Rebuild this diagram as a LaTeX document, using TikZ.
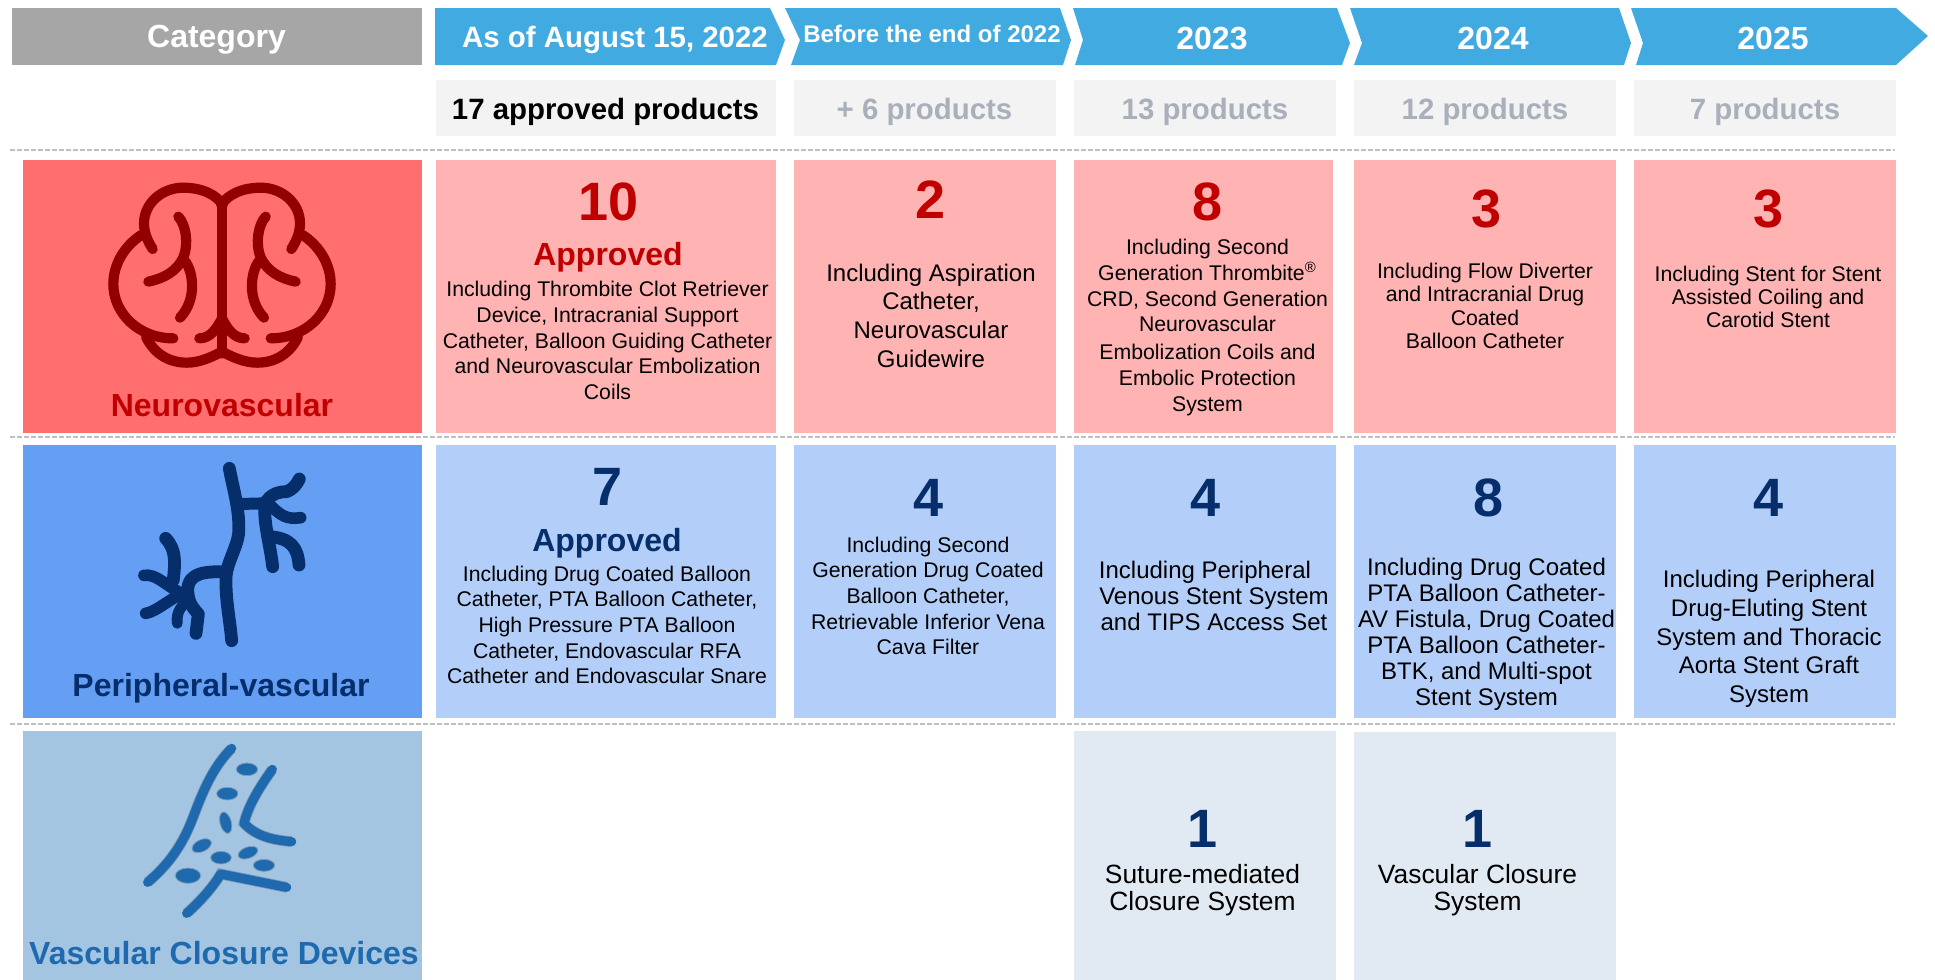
\documentclass[tikz,border=0pt]{standalone}
\usepackage{fontspec}
\setmainfont{Liberation Sans}
\definecolor{hdr}{HTML}{41ABE1}
\definecolor{catgray}{HTML}{A6A6A6}
\definecolor{subbg}{HTML}{F3F3F3}
\definecolor{subfg}{HTML}{A9B0BC}
\definecolor{dashc}{HTML}{BFBFBF}
\definecolor{nleft}{HTML}{FF6F6F}
\definecolor{ncard}{HTML}{FFB3B3}
\definecolor{ntext}{HTML}{C00000}
\definecolor{nicon}{HTML}{930000}
\definecolor{pleft}{HTML}{659FF4}
\definecolor{pcard}{HTML}{B3CFF9}
\definecolor{ptext}{HTML}{052E6B}
\definecolor{vleft}{HTML}{A4C5E2}
\definecolor{vcard}{HTML}{E1EAF3}
\definecolor{vtext}{HTML}{1F6AAE}
\definecolor{vhalo}{HTML}{7F9CB8}
\newcommand{\sz}[2]{\fontsize{#1}{#2}\selectfont}
\tikzset{
  x=0.5pt,y=-0.5pt,
  hdrtext/.style={text=white,font=\sz{14.7}{16}\bfseries,inner sep=0pt},
  subtext/.style={text=subfg,font=\sz{14.7}{16}\bfseries,inner sep=0pt},
  bigneu/.style={text=ntext,font=\sz{27}{30}\bfseries,inner sep=0pt},
  bigper/.style={text=ptext,font=\sz{27}{30}\bfseries,inner sep=0pt},
  bigvcd/.style={text=ptext,font=\sz{27}{30}\bfseries,inner sep=0pt},
  appneu/.style={text=ntext,font=\sz{16}{18}\bfseries,inner sep=0pt},
  appper/.style={text=ptext,font=\sz{16}{18}\bfseries,inner sep=0pt},
  catlabel/.style={font=\sz{16}{18}\bfseries,inner sep=0pt},
  bodysm/.style={text=black,align=center,inner sep=0pt,font=\sz{10.62}{12.8}\selectfont},
  bodylg/.style={text=black,align=center,inner sep=0pt,font=\sz{12}{14.35}\selectfont},
  bodyxl/.style={text=black,align=center,inner sep=0pt,font=\sz{13.2}{13.6}\selectfont},
  divider/.style={draw=dashc,line width=1pt,dash pattern=on 2.4pt off 1.1pt},
  brainline/.style={draw=nicon,line width=5.1pt,line cap=round,line join=round},
  vesselline/.style={draw=ptext,line width=6.4pt,line cap=round,line join=round},
  wall/.style={draw=vtext,line width=4.6pt,line cap=round,line join=round,preaction={draw=vhalo,line width=5.4pt}},
  clot/.style={fill=vtext,draw=vhalo,line width=0.4pt},
}
\begin{document}
\begin{tikzpicture}
\useasboundingbox (0,0) rectangle (1935,980);
% header band
\fill[catgray] (12,8) rectangle (422,65);
\fill[hdr] (435,8) -- (770,8) -- (785,40) -- (776,65) -- (435,65) -- cycle;
\fill[hdr] (785,8) -- (1060,8) -- (1071,40) -- (1063,65) -- (791,65) -- (800,40) -- cycle;
\fill[hdr] (1073,8) -- (1337,8) -- (1350,43) -- (1342,65) -- (1075,65) -- (1083,40) -- cycle;
\fill[hdr] (1350,8) -- (1619,8) -- (1631,43) -- (1624,65) -- (1354,65) -- (1362,43) -- cycle;
\fill[hdr] (1631,8) -- (1896,8) -- (1928,36) -- (1896,65) -- (1636,65) -- (1643,43) -- cycle;
\node[hdrtext,font=\sz{16}{18}\bfseries] (hcat) at (216.5,39.5) {Category};
\node[hdrtext] (h22a) at (615,39.5) {As of August 15, 2022};
\node[hdrtext,font=\sz{12}{14}\bfseries] (h22b) at (932,33.5) {Before the end of 2022};
\node[hdrtext,font=\sz{16}{18}\bfseries] (h23) at (1212,38.5) {2023};
\node[hdrtext,font=\sz{16}{18}\bfseries] (h24) at (1493,38.5) {2024};
\node[hdrtext,font=\sz{16}{18}\bfseries] (h25) at (1773,38.5) {2025};
% sub header
\fill[subbg] (436,80) rectangle (776,136);
\fill[subbg] (794,80) rectangle (1056,136);
\fill[subbg] (1074,80) rectangle (1336,136);
\fill[subbg] (1354,80) rectangle (1616,136);
\fill[subbg] (1634,80) rectangle (1896,136);
\node[subtext,text=black] (s0) at (605.5,112) {17 approved products};
\node[subtext] (s1) at (924.5,112) {+ 6 products};
\node[subtext] (s2) at (1205,112) {13 products};
\node[subtext] (s3) at (1485,112) {12 products};
\node[subtext] (s4) at (1765,112) {7 products};
% dividers
\draw[divider] (10,150) -- (1895,150);
\draw[divider] (10,437) -- (1895,437);
\draw[divider] (10,724) -- (1895,724);
% left cells
\fill[nleft] (23,160) rectangle (422,433);
\fill[pleft] (23,445) rectangle (422,718);
\fill[vleft] (23,731) rectangle (422,980);
\node[catlabel,text=ntext] (lneu) at (222,405) {Neurovascular};
\node[catlabel,text=ptext] (lper) at (221,688) {Peripheral-vascular};
\node[catlabel,text=vtext] (lvcd) at (224,953) {Vascular Closure Devices};
% neuro row
\fill[ncard] (436,160) rectangle (776,433);
\fill[ncard] (794,160) rectangle (1056,433);
\fill[ncard] (1074,160) rectangle (1333,433);
\fill[ncard] (1354,160) rectangle (1616,433);
\fill[ncard] (1634,160) rectangle (1896,433);
\node[bigneu] (n1n) at (609,202) {10};
\node[appneu] (n1a) at (608,257) {Approved};
\node[bodysm] (n1t) at (607.5,340.5) {Including Thrombite Clot Retriever\\Device, Intracranial Support\\Catheter, Balloon Guiding Catheter\\and Neurovascular Embolization\\Coils};
\node[bigneu] (n2n) at (931,200) {2};
\node[bodylg] (n2t) at (931,315.5) {Including Aspiration\\Catheter,\\Neurovascular\\Guidewire};
\node[bigneu] (n3n) at (1208,202) {8};
\node[bodysm] (n3t) at (1207.5,327.5) {Including Second\\Generation Thrombite\textsuperscript{®}\\CRD, Second Generation\\Neurovascular\\[1.3pt]Embolization Coils and\\Embolic Protection\\System};
\node[bigneu] (n4n) at (1487,209) {3};
\node[bodysm,font=\sz{10.62}{11.6}\selectfont] (n4t) at (1485,306) {Including Flow Diverter\\and Intracranial Drug\\Coated\\Balloon Catheter};
\node[bigneu] (n5n) at (1769,209) {3};
\node[bodysm,font=\sz{10.62}{11.6}\selectfont] (n5t) at (1768,297) {Including Stent for Stent\\Assisted Coiling and\\Carotid Stent};
% peripheral row
\fill[pcard] (436,445) rectangle (776,718);
\fill[pcard] (794,445) rectangle (1056,718);
\fill[pcard] (1074,445) rectangle (1336,718);
\fill[pcard] (1354,445) rectangle (1616,718);
\fill[pcard] (1634,445) rectangle (1896,718);
\node[bigper] (p1n) at (608,487) {7};
\node[appper] (p1a) at (607,543) {Approved};
\node[bodysm] (p1t) at (607,625) {Including Drug Coated Balloon\\Catheter, PTA Balloon Catheter,\\High Pressure PTA Balloon\\Catheter, Endovascular RFA\\Catheter and Endovascular Snare};
\node[bigper] (p2n) at (929,498) {4};
\node[bodysm] (p2t) at (928,596) {Including Second\\Generation Drug Coated\\Balloon Catheter,\\Retrievable Inferior Vena\\Cava Filter};
\node[bigper] (p3n) at (1206,498) {4};
\node[bodylg,font=\sz{12}{13}\selectfont] (p3t) at (1214,596) {Including Peripheral\hspace{9pt}\mbox{}\\Venous Stent System\\and TIPS Access Set};
\node[bigper] (p4n) at (1489,498) {8};
\node[bodylg,font=\sz{12}{13}\selectfont] (p4t) at (1486.5,634.5) {Including Drug Coated\\PTA Balloon Catheter-\\AV Fistula, Drug Coated\\PTA Balloon Catheter-\\BTK, and Multi-spot\\Stent System};
\node[bigper] (p5n) at (1769,498) {4};
\node[bodylg] (p5t) at (1769,639) {Including Peripheral\\Drug-Eluting Stent\\System and Thoracic\\Aorta Stent Graft\\System};
% closure row
\fill[vcard] (1074,731) rectangle (1336,980);
\fill[vcard] (1354,732) rectangle (1616,980);
\node[bigvcd] (v1n) at (1203,829) {1};
\node[bodyxl] (v1t) at (1202.5,890) {Suture-mediated\\Closure System};
\node[bigvcd] (v2n) at (1478,829) {1};
\node[bodyxl] (v2t) at (1477.5,890) {Vascular Closure\\System};
% brain icon
\begin{scope}[shift={(0,140)},x=0.16667pt,y=-0.16667pt]
\foreach \s in {1,-1}{
\begin{scope}[shift={(666,0)},xscale=\s]
  \draw[brainline] (2,195) .. controls (-15,165) and (-60,143) .. (-116,143) .. controls (-180,143) and (-234,190) .. (-234,250) .. controls (-234,280) and (-222,305) .. (-208,327);
  \draw[brainline] (-242,285) .. controls (-295,320) and (-326,375) .. (-326,432) .. controls (-326,520) and (-250,595) .. (-146,595);
  \draw[brainline] (-228,590) .. controls (-205,640) and (-160,668) .. (-106,668) .. controls (-65,668) and (-30,650) .. (0,635);
  \draw[brainline] (-131,230) .. controls (-108,255) and (-100,310) .. (-115,350) .. controls (-135,395) and (-175,415) .. (-221,425);
  \draw[brainline] (-112,362) .. controls (-85,395) and (-75,480) .. (-126,533);
  \draw[brainline] (0,535) .. controls (-15,565) and (-35,595) .. (-68,595);
  \draw[brainline] (0,195) -- (0,640);
\end{scope}}
\end{scope}
% vessel icon
\begin{scope}[shift={(0,430)},x=0.16667pt,y=-0.16667pt]
  \draw[vesselline] (688,115) .. controls (700,180) and (720,240) .. (716,310) .. controls (712,350) and (680,400) .. (678,440) .. controls (676,510) and (690,570) .. (695,632);
  \draw[vesselline,line width=6pt] (716,222) -- (795,220);
  \draw[vesselline] (795,222) .. controls (810,190) and (840,185) .. (860,185) .. controls (875,180) and (890,165) .. (898,147);
  \draw[vesselline] (795,222) .. controls (790,280) and (810,340) .. (818,410);
  \draw[vesselline,line width=5.8pt] (810,225) .. controls (840,255) and (860,270) .. (902,263);
  \draw[vesselline] (810,320) .. controls (870,325) and (893,350) .. (897,405);
  \draw[vesselline] (678,425) .. controls (620,425) and (565,425) .. (563,480) .. controls (565,510) and (570,525) .. (595,552) -- (588,610);
  \draw[vesselline,line width=5.4pt] (552,522) .. controls (530,545) and (530,565) .. (532,580);
  \draw[vesselline] (520,450) .. controls (525,400) and (530,360) .. (497,325);
  \draw[vesselline,line width=5.8pt] (432,436) .. controls (470,430) and (500,470) .. (545,490);
  \draw[vesselline,line width=5.8pt] (437,550) .. controls (470,545) and (510,505) .. (550,490);
\end{scope}
% closure icon
\begin{scope}[shift={(0,720)},x=0.16667pt,y=-0.16667pt]
  \draw[wall] (695,85) .. controls (640,140) and (610,210) .. (580,290) .. controls (550,370) and (510,430) .. (443,487);
  \draw[wall] (817,148) .. controls (780,200) and (745,255) .. (732,310) .. controls (770,350) and (820,360) .. (875,365);
  \draw[wall] (560,580) .. controls (600,545) and (640,500) .. (662,462) -- (860,502);
  \fill[clot] (741,148) ellipse [x radius=32,y radius=19];
  \fill[clot] (682,221) ellipse [x radius=32,y radius=19];
  \fill[clot,rotate around={105:(677,308)}] (677,308) ellipse [x radius=33,y radius=17];
  \fill[clot,rotate around={25:(605,377)}] (605,377) ellipse [x radius=31,y radius=18];
  \fill[clot] (663,413) ellipse [x radius=31,y radius=19];
  \fill[clot,rotate around={20:(744,398)}] (744,398) ellipse [x radius=31,y radius=17];
  \fill[clot] (792,436) ellipse [x radius=32,y radius=18];
  \fill[clot] (564,467) ellipse [x radius=38,y radius=23];
\end{scope}
\end{tikzpicture}
\end{document}
